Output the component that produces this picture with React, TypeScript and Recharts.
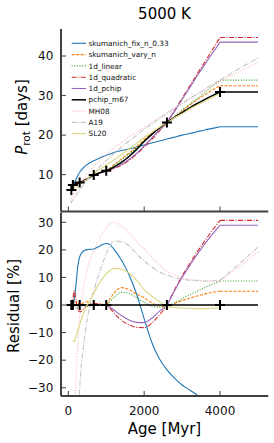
import React from 'react';
import { ComposedChart, Line, Scatter, XAxis, YAxis, Legend } from 'recharts';

// ---------- data ----------
const ages = [60, 80, 120, 150, 200, 250, 300, 400, 500, 670, 800, 1000, 1100, 1200, 1400, 1600, 1800, 2000, 2200, 2400, 2600, 2800, 3000, 3200, 3400, 3600, 3800, 4000, 4500, 5000];

// rotation period [days]
const protSkumanichFix = [null, 6.1, 7.3, 7.8, 8.7, 9.8, 10.6, 11.8, 12.6, 13.5, 14.1, 14.9, 15.2, 15.6, 16.1, 16.5, 17.0, 17.5, 18.0, 18.5, 19.0, 19.5, 20.0, 20.4, 20.85, 21.3, 21.7, 22.1, 22.1, 22.1];
const protSkumanichVary = [null, 6.1, 7.4, 7.6, 7.85, 7.95, 8.05, 8.55, 9.05, 9.95, 10.4, 11.05, 11.7, 12.45, 14.0, 15.45, 17.1, 18.85, 20.35, 21.75, 23.1, 24.6, 26.1, 27.6, 28.95, 30.2, 31.4, 32.5, 32.5, 32.5];
const protLinear = [null, 6.1, 7.4, 7.5, 7.7, 7.85, 8.0, 8.4, 8.9, 9.9, 10.35, 11.0, 11.55, 12.25, 13.75, 15.2, 16.85, 18.6, 20.1, 21.6, 23.1, 24.7, 26.3, 27.8, 29.3, 30.8, 32.4, 33.9, 33.9, 33.9];
const protQuadratic = [null, 6.1, 7.5, 7.95, 7.9, 7.8, 7.8, 8.35, 8.9, 9.95, 10.4, 11.0, 11.25, 11.6, 12.4, 13.6, 15.2, 17.0, 18.9, 21.0, 23.2, 26.2, 29.3, 32.4, 35.5, 38.5, 41.6, 44.7, 44.7, 44.7];
const protPchip = [null, 6.1, 7.4, 7.55, 7.75, 7.9, 8.0, 8.45, 8.95, 9.9, 10.35, 11.0, 11.3, 11.7, 12.6, 13.85, 15.4, 17.3, 19.3, 21.3, 23.2, 26.0, 29.0, 32.0, 35.0, 37.9, 40.7, 43.5, 43.5, 43.5];
const protPchipM67 = [null, 6.1, 7.4, 7.55, 7.75, 7.9, 8.0, 8.45, 8.95, 9.9, 10.35, 11.0, 11.4, 11.9, 13.1, 14.6, 16.4, 18.4, 20.2, 21.8, 23.2, 24.5, 25.7, 26.9, 28.0, 29.0, 30.0, 30.9, 30.9, 30.9];
const protMH08 = [3.2, 3.6, 4.5, 5.1, 6.0, 6.8, 7.6, 8.9, 10.3, 12.0, 13.3, 15.1, 15.9, 16.7, 18.1, 19.5, 20.8, 22.0, 23.2, 24.4, 25.6, 26.8, 27.9, 29.1, 30.2, 31.3, 32.4, 33.5, 36.0, 38.4];
const protA19 = [2.8, 3.05, 3.6, 4.0, 4.7, 5.4, 6.1, 7.4, 8.6, 10.4, 11.7, 13.6, 14.4, 15.3, 17.0, 18.5, 20.0, 21.5, 22.8, 24.2, 25.5, 26.8, 28.0, 29.3, 30.4, 31.6, 32.8, 33.9, 36.8, 39.5];
const protSL20 = [null, null, 6.55, 6.65, 6.95, 7.25, 7.5, 8.2, 8.95, 10.35, 11.2, 12.4, 13.1, 13.7, 15.1, 16.5, 17.9, 19.4, 20.7, 22.0, 23.1, 24.4, 25.4, 26.6, 27.6, 28.6, 29.6, 30.55, null, null];

// residuals [%]
const resSkumanichFix = [null, 0, -1, 1.5, 7, 14, 17.5, 19.6, 20.1, 20.3, 21.2, 22.3, 21.8, 20.3, 16.3, 11.0, 4.0, -5.0, -13.5, -19.5, -23.5, -26.5, -29, -30.8, -32.7, -34.5, -36.5, -39.5, -39.5, -39.5];
const resSkumanichVary = [null, 0, 0, 0.8, 1.2, 1.0, 0, 0.8, 1.2, 0, 0.2, 0, 2.3, 4.2, 6.3, 5.6, 4.0, 2.6, 0.8, -0.3, -0.5, 0.5, 1.6, 2.5, 3.3, 4.0, 4.6, 5.0, 5.0, 5.0];
const resLinear = [null, 0, 0, -0.5, -1.0, -0.8, 0, -0.3, -0.5, 0, 0, 0, 1.2, 2.7, 4.6, 4.2, 2.6, 1.0, -0.4, -0.8, -0.5, 0.8, 2.3, 3.7, 5.0, 6.3, 7.5, 8.7, 8.7, 8.7];
const resQuadratic = [null, -0.5, 2, 5.2, 2, -1.5, -2.5, -1.5, -0.3, 0.5, 0.5, -0.2, -1.2, -2.8, -5.5, -7.2, -8.1, -8.2, -6.6, -3.6, 0, 5.5, 10.5, 15, 19.3, 23.3, 27.1, 30.7, 30.7, 30.7];
const resPchip = [null, 0, 0, 0, 0, 0, 0, 0, 0, 0, 0, 0, -0.8, -1.8, -3.8, -5.4, -6.3, -6.4, -4.8, -2.3, 0, 5.2, 10, 14.3, 18.4, 22.2, 25.7, 28.9, 28.9, 28.9];
const resPchipM67 = [null, 0, 0, 0, 0, 0, 0, 0, 0, 0, 0, 0, 0, 0, 0, 0, 0, 0, 0, 0, 0, 0, 0, 0, 0, 0, 0, 0, 0, 0];
const resMH08 = [-100, -70, -62, -48, -28, -14, -4, 6, 13, 19.5, 23.5, 28, 29.5, 30, 28.5, 26, 23, 20.3, 17.5, 14.5, 12.2, 11, 9.9, 9.3, 9.0, 8.7, 8.6, 8.7, 13.8, 19.3];
const resA19 = [-150, -110, -100, -85, -62, -45, -30, -15, -5, 5, 11, 18.5, 21.5, 23.2, 23, 21.5, 18.5, 16, 13.8, 12, 10.9, 10, 9.4, 9.0, 8.8, 8.7, 8.8, 9.0, 14.8, 21];
const resSL20 = [null, null, -12.8, -13.4, -11.5, -9, -7, -3, 0, 4.3, 7.5, 11.3, 12.5, 13.3, 13.0, 11.6, 9.0, 5.6, 3.2, 1.3, -0.5, -0.9, -1.1, -1.2, -1.3, -1.3, -1.2, -1.1, null, null];

// reference clusters
const clusterAges = [80, 120, 300, 670, 1000, 2600, 4000];
const clusterProt = [6.1, 7.4, 8.0, 9.9, 11.0, 23.2, 30.9];
const clusterRes = [0, 0, 0, 0, 0, 0, 0];

const seriesNames = ['skumanich_fix_n_0.33', 'skumanich_vary_n', '1d_linear', '1d_quadratic', '1d_pchip', 'pchip_m67', 'MH08', 'A19', 'SL20'];
const topValues = [protSkumanichFix, protSkumanichVary, protLinear, protQuadratic, protPchip, protPchipM67, protMH08, protA19, protSL20];
const resValues = [resSkumanichFix, resSkumanichVary, resLinear, resQuadratic, resPchip, resPchipM67, resMH08, resA19, resSL20];

const xTicks = [0, 2000, 4000];
const topYTicks = [10, 20, 30, 40];
const resYTicks = [-30, -20, -10, 0, 10, 20, 30];

// ---------- styles ----------
const seriesStyles = [
  { color: '#1f77b4', dash: undefined, width: 1.1 },
  { color: '#ff7f0e', dash: '3 1.5', width: 1.1 },
  { color: '#2ca02c', dash: '1 1.6', width: 1.1 },
  { color: '#d62728', dash: '5 1.5 1 1.5', width: 1.1 },
  { color: '#9467bd', dash: undefined, width: 1.1 },
  { color: '#000000', dash: undefined, width: 1.5 },
  { color: '#ffb3c1', dash: '1 1.6', width: 1.1 },
  { color: '#c4c4c4', dash: '5 1.5 1 1.5', width: 1.1 },
  { color: '#dcd780', dash: undefined, width: 1.1 },
];

const FONT = 'DejaVu Sans, sans-serif';
const SPINE = '#404040';
const XDOMAIN: [number, number] = [-193, 5273];
const TOP_Y: [number, number] = [0.69, 46.83];
const RES_Y: [number, number] = [-33, 33.55];

const fmt = (v: number) => (v < 0 ? '\u2212' + Math.abs(v) : String(v));

const toPoints = (vals: (number | null)[]) =>
  ages.map((a, i) => ({ age: a, v: vals[i] })).filter((d) => d.v !== null && d.v !== undefined);

const XTickNoLabel = (p: any) => (
  <line x1={p.x} x2={p.x} y1={p.y} y2={p.y - 5} stroke={SPINE} strokeWidth={1} />
);
const XTickLabel = (p: any) => (
  <g>
    <line x1={p.x} x2={p.x} y1={p.y} y2={p.y - 5} stroke={SPINE} strokeWidth={1} />
    <text x={p.x} y={p.y + 19} textAnchor="middle" fontSize={12} fontFamily={FONT} fill="#111">
      {fmt(p.payload.value)}
    </text>
  </g>
);
const YTick = (p: any) => (
  <g>
    <line x1={p.x} x2={p.x + 5} y1={p.y} y2={p.y} stroke={SPINE} strokeWidth={1} />
    <text x={p.x - 7.7} y={p.y + 4.3} textAnchor="end" fontSize={12} fontFamily={FONT} fill="#111">
      {fmt(p.payload.value)}
    </text>
  </g>
);

const Cross = (p: any) => {
  const { cx, cy } = p;
  if (cx == null || cy == null) return <g />;
  return <path d={`M${cx - 5},${cy}h10M${cx},${cy - 5}v10`} stroke="#000" strokeWidth={2} fill="none" />;
};

const LegendBox = () => (
  <svg width={274} height={212} style={{ position: 'absolute', left: 0, top: 0, overflow: 'visible' }}>
    {seriesNames.map((n, i) => {
      const y = 43.3 + i * 11.3;
      const s = seriesStyles[i];
      return (
        <g key={n}>
          <line x1={71.7} x2={86} y1={y} y2={y} stroke={s.color} strokeWidth={s.width} strokeDasharray={s.dash} />
          <text x={88.5} y={y + 2.6} fontSize={7.3} fontFamily={FONT} fill="#111">
            {n}
          </text>
        </g>
      );
    })}
  </svg>
);

function renderSeries(valuesList: (number | null)[][]) {
  const out: React.ReactNode[] = [];
  valuesList.forEach((vals, i) => {
    const pts = toPoints(vals);
    const s = seriesStyles[i];
    const seg1 = pts.filter((d) => d.age <= 4000);
    const seg2 = pts.filter((d) => d.age >= 4000);
    out.push(
      <Line
        key={`a${i}`}
        data={seg1}
        dataKey="v"
        type="monotone"
        stroke={s.color}
        strokeWidth={s.width}
        strokeDasharray={s.dash}
        dot={false}
        activeDot={false}
        isAnimationActive={false}
        legendType="none"
      />
    );
    if (seg2.length > 1) {
      out.push(
        <Line
          key={`b${i}`}
          data={seg2}
          dataKey="v"
          type="linear"
          stroke={s.color}
          strokeWidth={s.width}
          strokeDasharray={s.dash}
          dot={false}
          activeDot={false}
          isAnimationActive={false}
          legendType="none"
        />
      );
    }
  });
  return out;
}

const topCross = clusterAges.map((a, i) => ({ age: a, v: clusterProt[i] }));
const resCross = clusterAges.map((a, i) => ({ age: a, v: clusterRes[i] }));

export default function App() {
  return (
    <div style={{ position: 'absolute', left: 0, top: 0, width: 274, height: 443, background: '#fff', overflow: 'hidden' }}>
      <div style={{ position: 'absolute', left: 0, top: 0 }}>
        <ComposedChart width={274} height={212.5} margin={{ top: 29, right: 5.7, bottom: 0, left: 0 }}>
          <XAxis
            dataKey="age"
            type="number"
            domain={XDOMAIN}
            ticks={xTicks}
            allowDataOverflow
            height={1}
            interval={0}
            tickSize={0}
            tickMargin={0}
            tickLine={false}
            tick={XTickNoLabel}
            axisLine={{ stroke: SPINE, strokeWidth: 2 }}
          />
          <YAxis
            type="number"
            domain={TOP_Y}
            ticks={topYTicks}
            allowDataOverflow
            width={61}
            interval={0}
            tickSize={0}
            tickMargin={0}
            tickLine={false}
            tick={YTick}
            axisLine={{ stroke: SPINE, strokeWidth: 2 }}
          />
          {renderSeries(topValues)}
          <Scatter data={topCross} dataKey="v" shape={Cross} isAnimationActive={false} legendType="none" />
          <Legend layout="vertical" align="center" verticalAlign="middle" content={LegendBox} wrapperStyle={{ position: 'absolute', left: 0, top: 0, width: 274, height: 212 }} />
        </ComposedChart>
      </div>
      <div style={{ position: 'absolute', left: 0, top: 0 }}>
        <ComposedChart width={274} height={443} margin={{ top: 212.5, right: 5.7, bottom: 46, left: 0 }}>
          <XAxis
            dataKey="age"
            type="number"
            domain={XDOMAIN}
            ticks={xTicks}
            allowDataOverflow
            height={1}
            interval={0}
            tickSize={0}
            tickMargin={0}
            tickLine={false}
            tick={XTickLabel}
            axisLine={{ stroke: SPINE, strokeWidth: 2 }}
          />
          <YAxis
            type="number"
            domain={RES_Y}
            ticks={resYTicks}
            allowDataOverflow
            width={61}
            interval={0}
            tickSize={0}
            tickMargin={0}
            tickLine={false}
            tick={YTick}
            axisLine={{ stroke: SPINE, strokeWidth: 2 }}
          />
          {renderSeries(resValues)}
          <Scatter data={resCross} dataKey="v" shape={Cross} isAnimationActive={false} legendType="none" />
        </ComposedChart>
      </div>
      <svg width={274} height={443} style={{ position: 'absolute', left: 0, top: 0, pointerEvents: 'none' }}>
        <text x={164.5} y={19} textAnchor="middle" fontSize={15} fontFamily={FONT} fill="#000">
          5000 K
        </text>
        <text transform="translate(27,117) rotate(-90)" textAnchor="middle" fontSize={15} fontFamily={FONT} fill="#000">
          <tspan fontStyle="italic">P</tspan>
          <tspan fontSize={10.5} dy={3}>rot</tspan>
          <tspan dy={-3}> [days]</tspan>
        </text>
        <text transform="translate(18.5,306) rotate(-90)" textAnchor="middle" fontSize={15} fontFamily={FONT} fill="#000">
          Residual [%]
        </text>
        <text x={164.5} y={433.5} textAnchor="middle" fontSize={15} fontFamily={FONT} fill="#000">
          Age [Myr]
        </text>
      </svg>
    </div>
  );
}
